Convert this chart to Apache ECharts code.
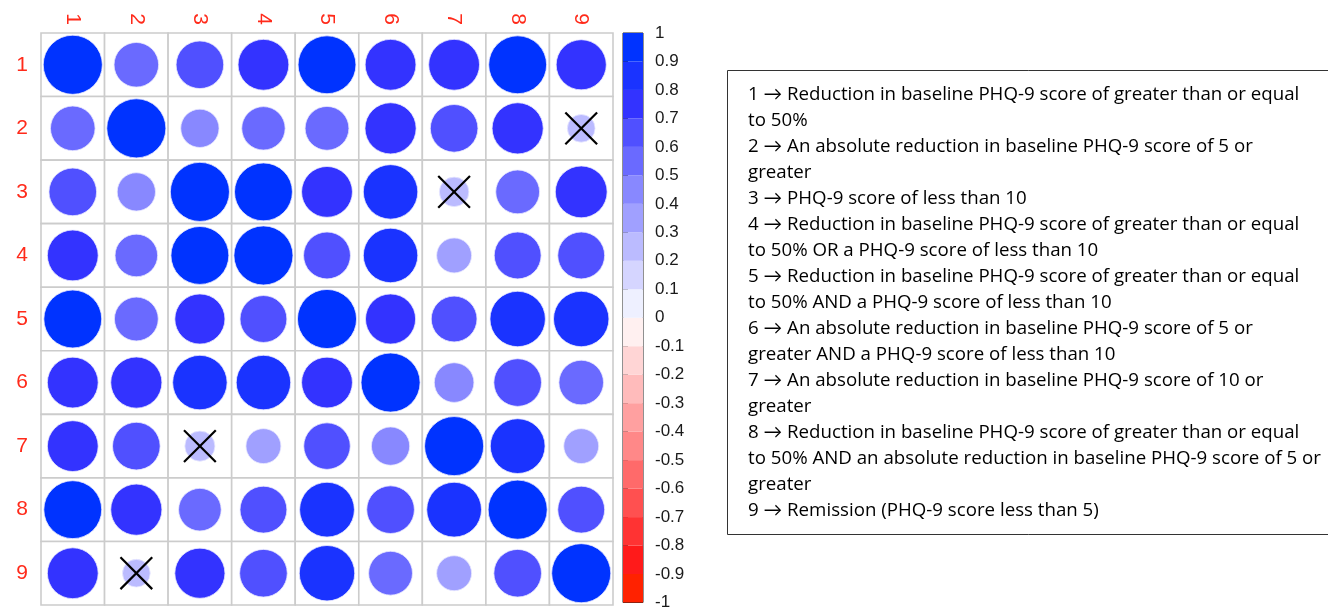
<!DOCTYPE html>
<html>
<head>
<meta charset="utf-8">
<script src="https://cdn.jsdelivr.net/npm/echarts@6/dist/echarts.min.js"></script>
<style>
html,body{margin:0;padding:0;background:#fff;}
#main{width:1328px;height:611px;}
</style>
</head>
<body>
<div id="main"></div>
<script>
// ---- data ----
const labels = ['1','2','3','4','5','6','7','8','9'];
const row1 = [1.00, 0.57, 0.65, 0.74, 0.96, 0.74, 0.74, 0.96, 0.72];
const row2 = [0.57, 1.00, 0.42, 0.54, 0.55, 0.75, 0.65, 0.75, 0.22];
const row3 = [0.65, 0.42, 1.00, 0.96, 0.74, 0.85, 0.25, 0.55, 0.77];
const row4 = [0.74, 0.52, 0.96, 1.00, 0.63, 0.85, 0.35, 0.63, 0.63];
const row5 = [0.96, 0.55, 0.72, 0.63, 1.00, 0.72, 0.60, 0.88, 0.88];
const row6 = [0.74, 0.75, 0.85, 0.85, 0.74, 1.00, 0.45, 0.65, 0.57];
const row7 = [0.74, 0.65, 0.26, 0.35, 0.62, 0.42, 1.00, 0.86, 0.35];
const row8 = [0.96, 0.75, 0.52, 0.63, 0.86, 0.65, 0.86, 1.00, 0.63];
const row9 = [0.74, 0.22, 0.72, 0.65, 0.88, 0.55, 0.35, 0.65, 1.00];
// non-significant cells [row, col] (1-based)
const insignificant = [[2,9],[3,7],[7,3],[9,2]];
const scaleTicks = [-1,-0.9,-0.8,-0.7,-0.6,-0.5,-0.4,-0.3,-0.2,-0.1,0,0.1,0.2,0.3,0.4,0.5,0.6,0.7,0.8,0.9,1];
const legendLines = [
  '1 \u2192 Reduction in baseline PHQ-9 score of greater than or equal',
  'to 50%',
  '2 \u2192 An absolute reduction in baseline PHQ-9 score of 5 or',
  'greater',
  '3 \u2192 PHQ-9 score of less than 10',
  '4 \u2192 Reduction in baseline PHQ-9 score of greater than or equal',
  'to 50% OR a PHQ-9 score of less than 10',
  '5 \u2192 Reduction in baseline PHQ-9 score of greater than or equal',
  'to 50% AND a PHQ-9 score of less than 10',
  '6 \u2192 An absolute reduction in baseline PHQ-9 score of 5 or',
  'greater AND a PHQ-9 score of less than 10',
  '7 \u2192 An absolute reduction in baseline PHQ-9 score of 10 or',
  'greater',
  '8 \u2192 Reduction in baseline PHQ-9 score of greater than or equal',
  'to 50% AND an absolute reduction in baseline PHQ-9 score of 5 or',
  'greater',
  '9 \u2192 Remission (PHQ-9 score less than 5)'
];

// ---- palette (bins from -1 to 1, step 0.1) ----
const palette = [
  '#ff2200','#ff1a1a','#ff3333','#ff5050','#ff6a6a','#ff8888','#ffa0a0','#ffbbbb','#ffd5d5','#fff0f0',
  '#eef0ff','#d5d5ff','#bbbbff','#a0a0ff','#8888ff','#6a6aff','#5050ff','#3333ff','#1a33ff','#0033ff'
];
function colorOf(v){
  let k = Math.floor((v + 1) / 0.1 + 1e-9);
  if (k > 19) k = 19; if (k < 0) k = 0;
  return palette[k];
}

const rows = [row1,row2,row3,row4,row5,row6,row7,row8,row9];
const cells = [];
rows.forEach((r, i) => r.forEach((v, j) => {
  const ns = insignificant.some(p => p[0] === i + 1 && p[1] === j + 1) ? 1 : 0;
  cells.push([j, i, v, ns]);
}));
const bins = [];
for (let k = 0; k < scaleTicks.length - 1; k++) bins.push([scaleTicks[k], scaleTicks[k+1], k]);

const chart = echarts.init(document.getElementById('main'));
const FONT = 'Liberation Sans, Arial, sans-serif';

chart.setOption({
  backgroundColor: '#fff',
  animation: false,
  grid: [
    {left: 41, top: 33, width: 572, height: 572},
    {left: 623, top: 33, width: 20, height: 572, show: true, borderColor: '#222', borderWidth: 1, backgroundColor: 'transparent'}
  ],
  xAxis: [
    {type: 'category', gridIndex: 0, data: labels, position: 'top',
     axisLine: {show: false}, axisTick: {show: false}, splitLine: {show: false},
     axisLabel: {rotate: 90, color: '#ff2a1a', fontSize: 21, fontFamily: FONT, margin: 8}},
    {type: 'value', gridIndex: 1, min: 0, max: 1, show: false}
  ],
  yAxis: [
    {type: 'category', gridIndex: 0, data: labels, inverse: true,
     axisLine: {show: false}, axisTick: {show: false}, splitLine: {show: false},
     axisLabel: {color: '#ff2a1a', fontSize: 21, fontFamily: FONT, margin: 13}},
    {type: 'value', gridIndex: 1, min: -1, max: 1, interval: 0.1, position: 'right',
     axisLine: {show: false}, splitLine: {show: false},
     axisTick: {show: true, length: 5, lineStyle: {color: '#222', width: 1}},
     axisLabel: {color: '#1a1a1a', fontSize: 17, fontFamily: FONT, margin: 12,
       formatter: v => String(Math.round(v * 10) / 10)}}
  ],
  series: [
    {
      type: 'custom', xAxisIndex: 0, yAxisIndex: 0, data: cells,
      renderItem: function(params, api){
        const c = api.coord([api.value(0), api.value(1)]);
        const s = api.size([1, 1]);
        const w = s[0], h = s[1];
        const v = api.value(2);
        const ns = api.value(3);
        const r = Math.sqrt(Math.abs(v)) * w * 0.465;
        const children = [
          {type: 'rect', shape: {x: c[0] - w/2, y: c[1] - h/2, width: w, height: h},
           style: {fill: '#fff', stroke: '#cccccc', lineWidth: 1.6}},
          {type: 'circle', shape: {cx: c[0], cy: c[1], r: r},
           style: {fill: colorOf(v), stroke: '#e8e8ff', lineWidth: 0.8}}
        ];
        if (ns) {
          const d = w * 0.25;
          children.push({type: 'line', shape: {x1: c[0]-d, y1: c[1]-d, x2: c[0]+d, y2: c[1]+d}, style: {stroke: '#000', lineWidth: 2.2}});
          children.push({type: 'line', shape: {x1: c[0]-d, y1: c[1]+d, x2: c[0]+d, y2: c[1]-d}, style: {stroke: '#000', lineWidth: 2.2}});
        }
        return {type: 'group', children: children};
      }
    },
    {
      type: 'custom', xAxisIndex: 1, yAxisIndex: 1, data: bins,
      renderItem: function(params, api){
        const p0 = api.coord([0, api.value(0)]);
        const p1 = api.coord([1, api.value(1)]);
        return {type: 'rect', shape: {x: p0[0], y: p1[1], width: p1[0] - p0[0], height: p0[1] - p1[1]},
                style: {fill: palette[api.value(2)]}};
      },
      z: 1
    }
  ],
  graphic: [
    {type: 'rect', left: 727, top: 70, shape: {width: 620, height: 464},
     style: {fill: 'transparent', stroke: '#333', lineWidth: 1}},
    {type: 'text', left: 748, top: 82,
     style: {text: legendLines.join('\n'), font: '18.7px "Open Sans", Lato, sans-serif', lineHeight: 26, fill: '#000'}}
  ]
});
</script>
</body>
</html>
